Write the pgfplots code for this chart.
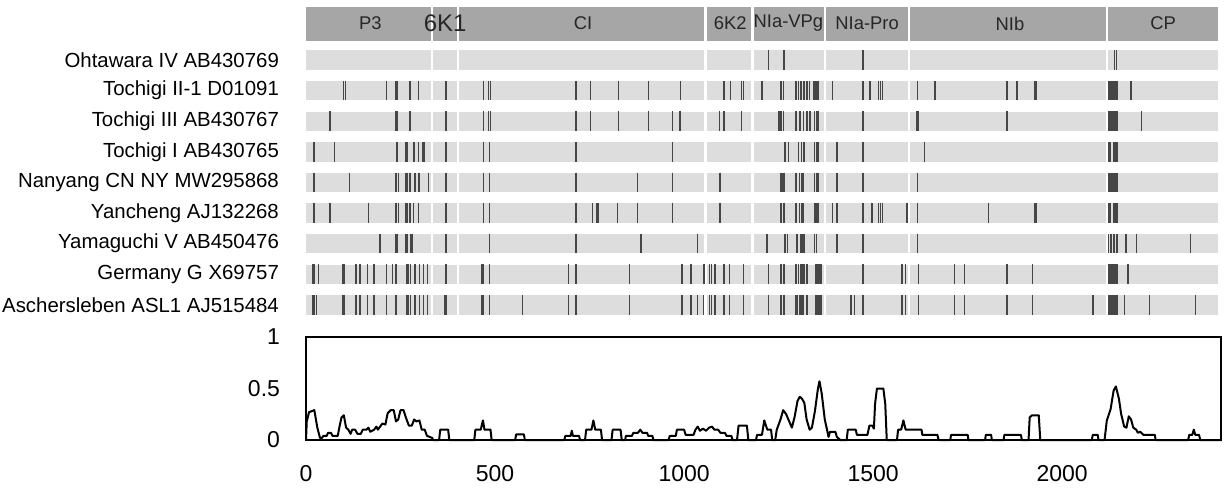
\documentclass[border=0pt]{standalone}
\usepackage{fontspec}
\setmainfont{Liberation Sans}
\usepackage{pgfplots}
\pgfplotsset{compat=1.18}
\definecolor{hdr}{RGB}{166,166,166}
\definecolor{bar}{RGB}{221,221,221}
\definecolor{mut}{RGB}{70,70,70}
\begin{document}
\begin{tikzpicture}
\path[use as bounding box] (0,0) rectangle (612.5pt,-243.5pt);
% ---- genome map: y in pixel rows, reversed
\begin{axis}[
  at={(153pt,0pt)}, anchor=north west,
  scale only axis, width=457.5pt, height=160pt,
  xmin=0, xmax=2420, ymin=0, ymax=320, y dir=reverse,
  hide axis, clip=false,
  mutmark/.style={only marks, mark=|, mark size=4.9pt,
    mark options={line width=0.7pt, draw=mut}},
]
  % header band and row bars
  \addplot[draw=none, fill=hdr] coordinates {(0,6.5) (2413,6.5) (2413,40.5) (0,40.5)} -- cycle;
  \addplot[draw=none, fill=bar] coordinates {(0,50.3) (2413,50.3) (2413,69.7) (0,69.7)} -- cycle;
  \addplot[draw=none, fill=bar] coordinates {(0,80.9) (2413,80.9) (2413,100.3) (0,100.3)} -- cycle;
  \addplot[draw=none, fill=bar] coordinates {(0,111.5) (2413,111.5) (2413,130.9) (0,130.9)} -- cycle;
  \addplot[draw=none, fill=bar] coordinates {(0,142.1) (2413,142.1) (2413,161.5) (0,161.5)} -- cycle;
  \addplot[draw=none, fill=bar] coordinates {(0,172.7) (2413,172.7) (2413,192.1) (0,192.1)} -- cycle;
  \addplot[draw=none, fill=bar] coordinates {(0,203.3) (2413,203.3) (2413,222.7) (0,222.7)} -- cycle;
  \addplot[draw=none, fill=bar] coordinates {(0,233.9) (2413,233.9) (2413,253.3) (0,253.3)} -- cycle;
  \addplot[draw=none, fill=bar] coordinates {(0,264.5) (2413,264.5) (2413,283.9) (0,283.9)} -- cycle;
  \addplot[draw=none, fill=bar] coordinates {(0,295.1) (2413,295.1) (2413,314.5) (0,314.5)} -- cycle;
  % region boundaries
  \addplot[ycomb, draw=white, line width=1.2pt, mark=none] coordinates {
    (333,320) (402,320) (1057,320) (1181,320) (1372,320) (1595,320) (2119,320)};

  % mutations, one row each
  \addplot[mutmark] table[row sep=\\, y expr=60] {x\\ 1223\\ 1264\\ 1473\\ 2138\\ 2144\\};
  \addplot[mutmark] table[row sep=\\, y expr=90.6] {x\\ 99\\ 105\\ 213\\ 236\\ 241\\ 275\\ 297\\ 370\\ 469\\ 483\\ 488\\ 714\\ 753\\ 826\\ 906\\ 991\\ 1106\\ 1122\\ 1152\\ 1157\\ 1206\\ 1256\\ 1263\\ 1296\\ 1303\\ 1309\\ 1317\\ 1325\\ 1331\\ 1344\\ 1349\\ 1354\\ 1393\\ 1473\\ 1492\\ 1514\\ 1519\\ 1524\\ 1618\\ 1664\\ 1854\\ 1880\\ 1927\\ 1931\\ 2124\\ 2128\\ 2132\\ 2136\\ 2140\\ 2145\\ 2182\\};
  \addplot[mutmark] table[row sep=\\, y expr=121.2] {x\\ 63\\ 236\\ 241\\ 275\\ 370\\ 469\\ 483\\ 488\\ 714\\ 753\\ 826\\ 906\\ 970\\ 989\\ 1093\\ 1106\\ 1152\\ 1251\\ 1256\\ 1263\\ 1296\\ 1307\\ 1316\\ 1325\\ 1333\\ 1345\\ 1350\\ 1354\\ 1473\\ 1616\\ 1620\\ 1854\\ 2124\\ 2128\\ 2132\\ 2136\\ 2140\\ 2145\\ 2210\\};
  \addplot[mutmark] table[row sep=\\, y expr=151.8] {x\\ 21\\ 75\\ 241\\ 264\\ 268\\ 286\\ 297\\ 308\\ 312\\ 370\\ 469\\ 485\\ 714\\ 970\\ 1267\\ 1276\\ 1302\\ 1311\\ 1315\\ 1319\\ 1345\\ 1350\\ 1354\\ 1404\\ 1473\\ 1636\\ 2124\\ 2128\\ 2136\\ 2140\\ 2145\\};
  \addplot[mutmark] table[row sep=\\, y expr=182.4] {x\\ 21\\ 115\\ 236\\ 240\\ 245\\ 264\\ 268\\ 275\\ 288\\ 299\\ 324\\ 370\\ 469\\ 485\\ 714\\ 877\\ 970\\ 1095\\ 1256\\ 1262\\ 1266\\ 1296\\ 1305\\ 1312\\ 1316\\ 1345\\ 1350\\ 1354\\ 1404\\ 1473\\ 1618\\ 2124\\ 2128\\ 2132\\ 2136\\ 2140\\ 2145\\};
  \addplot[mutmark] table[row sep=\\, y expr=213] {x\\ 21\\ 63\\ 165\\ 236\\ 240\\ 245\\ 264\\ 268\\ 275\\ 284\\ 297\\ 370\\ 469\\ 485\\ 714\\ 758\\ 770\\ 774\\ 824\\ 877\\ 970\\ 1095\\ 1256\\ 1264\\ 1296\\ 1305\\ 1312\\ 1316\\ 1346\\ 1351\\ 1356\\ 1393\\ 1404\\ 1473\\ 1497\\ 1514\\ 1519\\ 1524\\ 1589\\ 1618\\ 1805\\ 1927\\ 1931\\ 2124\\ 2128\\ 2136\\ 2140\\ 2145\\};
  \addplot[mutmark] table[row sep=\\, y expr=243.6] {x\\ 196\\ 236\\ 241\\ 264\\ 268\\ 277\\ 280\\ 370\\ 485\\ 714\\ 886\\ 1035\\ 1219\\ 1267\\ 1273\\ 1299\\ 1309\\ 1313\\ 1317\\ 1345\\ 1350\\ 1404\\ 1473\\ 1618\\ 2123\\ 2127\\ 2131\\ 2135\\ 2139\\ 2143\\ 2147\\ 2169\\ 2196\\ 2339\\};
  \addplot[mutmark] table[row sep=\\, y expr=274.2] {x\\ 19\\ 23\\ 33\\ 97\\ 101\\ 132\\ 143\\ 163\\ 180\\ 213\\ 228\\ 236\\ 240\\ 266\\ 270\\ 277\\ 288\\ 300\\ 310\\ 322\\ 370\\ 465\\ 469\\ 485\\ 694\\ 714\\ 855\\ 994\\ 1018\\ 1053\\ 1067\\ 1073\\ 1082\\ 1106\\ 1120\\ 1157\\ 1223\\ 1256\\ 1264\\ 1296\\ 1303\\ 1309\\ 1314\\ 1318\\ 1325\\ 1347\\ 1351\\ 1355\\ 1359\\ 1363\\ 1473\\ 1576\\ 1585\\ 1620\\ 1715\\ 1741\\ 1854\\ 1922\\ 2124\\ 2128\\ 2132\\ 2136\\ 2140\\ 2145\\ 2172\\ 2176\\};
  \addplot[mutmark] table[row sep=\\, y expr=304.8] {x\\ 19\\ 23\\ 27\\ 97\\ 101\\ 132\\ 143\\ 163\\ 180\\ 213\\ 236\\ 240\\ 266\\ 270\\ 277\\ 288\\ 300\\ 310\\ 322\\ 368\\ 372\\ 465\\ 469\\ 485\\ 572\\ 694\\ 714\\ 855\\ 994\\ 1018\\ 1036\\ 1051\\ 1067\\ 1073\\ 1082\\ 1106\\ 1120\\ 1157\\ 1223\\ 1256\\ 1264\\ 1294\\ 1299\\ 1307\\ 1312\\ 1316\\ 1325\\ 1347\\ 1351\\ 1355\\ 1359\\ 1363\\ 1441\\ 1450\\ 1473\\ 1576\\ 1585\\ 1620\\ 1715\\ 1741\\ 1854\\ 1922\\ 2081\\ 2124\\ 2128\\ 2132\\ 2136\\ 2140\\ 2145\\ 2164\\ 2231\\ 2352\\};

  % region names
  \begin{scope}[every node/.style={font=\fontsize{9.2}{11}\selectfont, text=black!85}]
    \node at (axis cs:170,23.5) {P3};
    \node[font=\fontsize{12}{14}\selectfont] at (axis cs:368,23.5) {6K1};
    \node at (axis cs:733,23.5) {CI};
    \node at (axis cs:1122,23.5) {6K2};
    \node at (axis cs:1276,23.5) {NIa-VPg};
    \node at (axis cs:1484,23.5) {NIa-Pro};
    \node at (axis cs:1862,23.5) {NIb};
    \node at (axis cs:2267,23.5) {CP};
  \end{scope}
  % isolate names
  \begin{scope}[every node/.style={anchor=east, font=\fontsize{10.2}{12}\selectfont}]
    \node at (axis cs:-53,60) {Ohtawara IV AB430769};
    \node at (axis cs:-53,90.6) {Tochigi II-1 D01091};
    \node at (axis cs:-53,121.2) {Tochigi III AB430767};
    \node at (axis cs:-53,151.8) {Tochigi I AB430765};
    \node at (axis cs:-53,182.4) {Nanyang CN NY MW295868};
    \node at (axis cs:-53,213) {Yancheng AJ132268};
    \node at (axis cs:-53,243.6) {Yamaguchi V AB450476};
    \node at (axis cs:-53,274.2) {Germany G X69757};
    \node at (axis cs:-53,304.8) {Aschersleben ASL1 AJ515484};
  \end{scope}
\end{axis}

% ---- diversity profile
\begin{axis}[
  at={(153pt,-220pt)}, anchor=south west,
  scale only axis, width=457.5pt, height=51.5pt,
  xmin=0, xmax=2420, ymin=0, ymax=1,
  axis line style={line width=0.9pt},
  xtick={0,500,1000,1500,2000}, ytick={0,0.5,1},
  major tick length=0pt,
  tick label style={font=\fontsize{11.5}{13}\selectfont},
  /pgf/number format/assume math mode=true,
  /pgf/number format/1000 sep={},
  xticklabel style={yshift=-9pt},
  yticklabel style={xshift=-9.5pt},
  clip=false,
]
  \addplot[black, line width=1pt, line join=round] coordinates {
    (0,0) (2,0.18) (8,0.27) (22,0.29) (30,0.12) (37,0.02) (42,0.02) (46,0.04) (55,0.04)
    (58,0.07) (66,0.07) (70,0.04) (84,0.04) (88,0.12) (94,0.22) (100,0.24) (106,0.12)
    (112,0.10) (118,0.06) (122,0.10) (130,0.10) (136,0.06) (145,0.06) (150,0.10) (160,0.10)
    (165,0.12) (170,0.08) (180,0.10) (186,0.13) (190,0.10) (196,0.13) (202,0.16) (210,0.15)
    (216,0.26) (224,0.29) (232,0.29) (238,0.18) (244,0.20) (250,0.29) (258,0.29) (264,0.22)
    (272,0.14) (280,0.14) (286,0.20) (292,0.18) (300,0.19) (306,0.10) (314,0.10) (320,0.04)
    (334,0.02) (336,0) (352,0) (355,0.10) (376,0.10) (379,0) (445,0) (448,0.10) (462,0.10)
    (468,0.19) (472,0.10) (488,0.10) (491,0) (553,0) (556,0.055) (576,0.055) (579,0)
    (683,0) (686,0.04) (700,0.04) (703,0.09) (706,0.04) (722,0.04) (725,0) (738,0)
    (741,0.10) (755,0.10) (760,0.19) (765,0.10) (780,0.10) (783,0) (808,0) (811,0.10)
    (832,0.10) (835,0) (844,0) (846,0.04) (862,0.04) (866,0.07) (878,0.07) (884,0.10)
    (890,0.07) (902,0.07) (905,0.04) (916,0.04) (919,0) (959,0) (962,0.04) (978,0.04)
    (981,0.10) (1000,0.10) (1004,0.05) (1025,0.05) (1030,0.10) (1036,0.13) (1042,0.09)
    (1050,0.11) (1058,0.09) (1066,0.12) (1074,0.13) (1080,0.10) (1090,0.10) (1096,0.07)
    (1108,0.07) (1112,0.04) (1125,0.04) (1128,0) (1140,0) (1144,0.14) (1166,0.14) (1170,0)
    (1190,0) (1193,0.05) (1206,0.05) (1212,0.19) (1220,0.10) (1230,0.10) (1233,0) (1241,0)
    (1245,0.10) (1255,0.20) (1262,0.29) (1270,0.25) (1278,0.18) (1285,0.12) (1292,0.22)
    (1300,0.38) (1306,0.42) (1312,0.40) (1318,0.36) (1324,0.20) (1332,0.10) (1338,0.12)
    (1346,0.28) (1354,0.50) (1358,0.57) (1364,0.45) (1372,0.20) (1378,0.10) (1382,0.03)
    (1386,0.08) (1400,0.08) (1404,0.03) (1413,0) (1430,0) (1433,0.10) (1454,0.10)
    (1457,0.05) (1485,0.05) (1490,0.14) (1498,0.14) (1502,0.11) (1505,0.35) (1510,0.50)
    (1527,0.50) (1532,0.35) (1536,0) (1563,0) (1566,0.10) (1574,0.10) (1580,0.19)
    (1586,0.10) (1628,0.10) (1630,0.05) (1670,0.05) (1673,0) (1704,0) (1706,0.05)
    (1750,0.05) (1752,0) (1796,0) (1798,0.05) (1812,0.05) (1814,0) (1845,0) (1847,0.05)
    (1891,0.05) (1893,0) (1911,0) (1914,0.22) (1920,0.24) (1938,0.24) (1942,0) (2078,0)
    (2081,0.05) (2094,0.05) (2096,0) (2112,0) (2118,0.19) (2128,0.30) (2136,0.48)
    (2142,0.52) (2150,0.40) (2156,0.25) (2164,0.13) (2170,0.12) (2176,0.23) (2182,0.20)
    (2188,0.12) (2196,0.10) (2200,0.07) (2206,0.08) (2215,0.05) (2245,0.05) (2247,0)
    (2333,0) (2336,0.05) (2344,0.05) (2348,0.10) (2352,0.05) (2362,0.05) (2365,0) (2420,0)
  };
\end{axis}
\end{tikzpicture}
\end{document}
